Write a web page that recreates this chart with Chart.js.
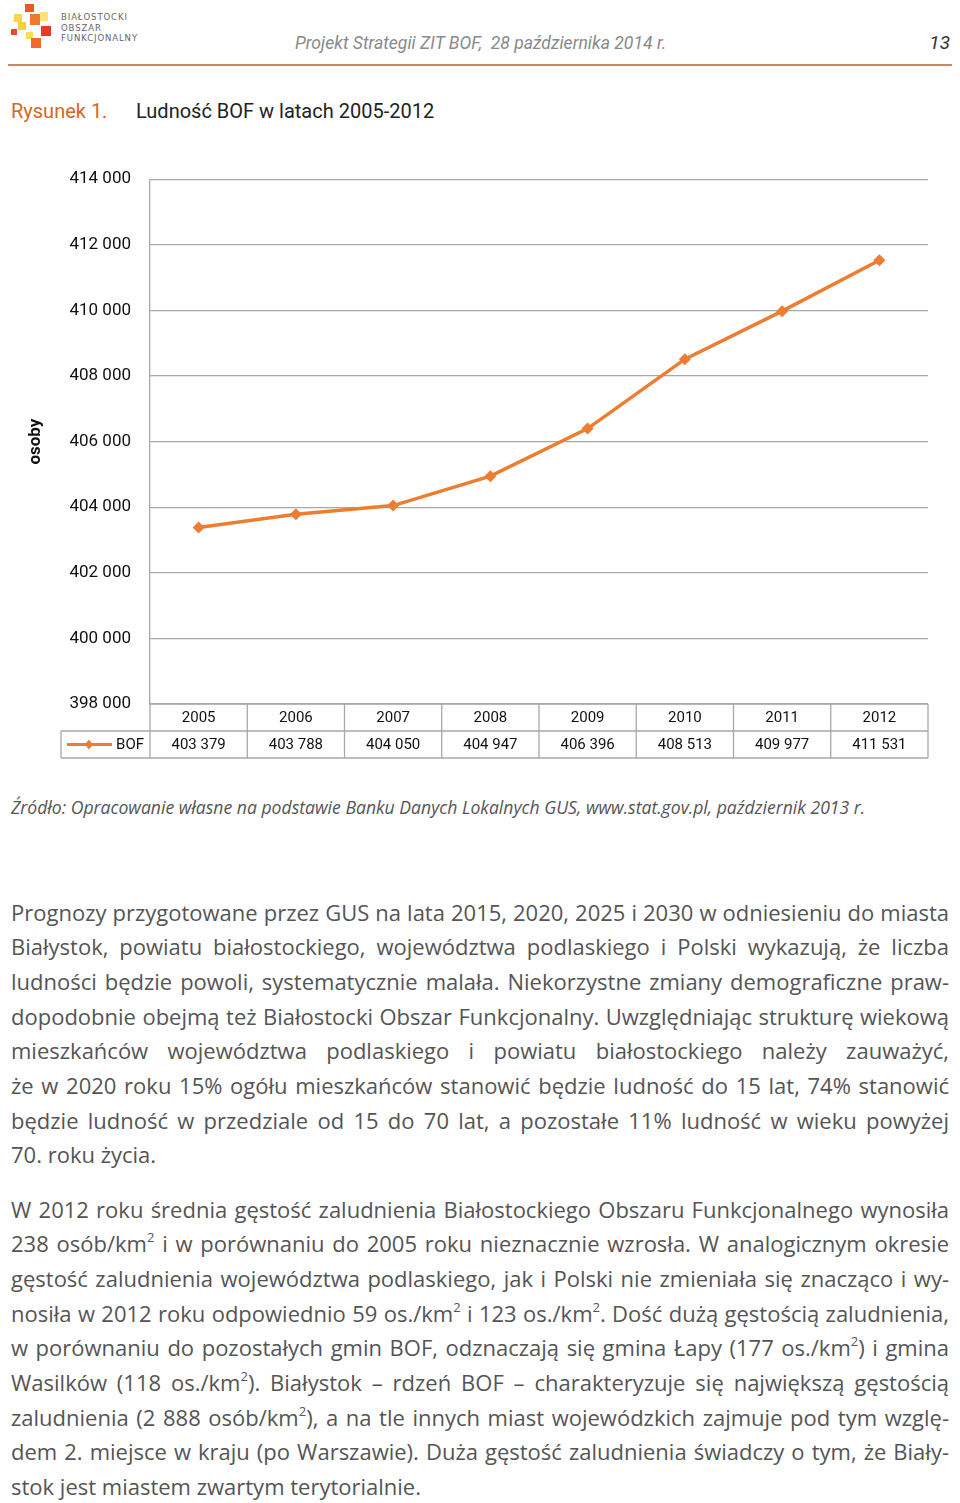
<!DOCTYPE html>
<html>
<head>
<meta charset="utf-8">
<script src="https://cdn.jsdelivr.net/npm/chart.js@4.4.0/dist/chart.umd.min.js"></script>
<style>
  body { margin: 0; width: 960px; height: 1503px; background: #fff; position: relative; overflow: hidden; font-family: Roboto, sans-serif; }
  .sq { position: absolute; }
  .logotxt { position: absolute; left: 61px; font-family: "DejaVu Sans", sans-serif; font-size: 8.5px; letter-spacing: 0.9px; color: #666; }
  .hdr { position: absolute; top: 33px; left: 295px; font-style: italic; font-size: 17.6px; color: #8a8a8a; }
  .pg { position: absolute; top: 31px; right: 10px; font-style: italic; font-size: 19px; color: #333; }
  .rule { position: absolute; left: 8px; width: 944px; top: 64px; height: 1.5px; background: #c98a5e; }
  .cap { position: absolute; top: 99px; font-size: 20px; }
  .src { position: absolute; top: 795px; left: 11px; font-family: "Open Sans", sans-serif; font-style: italic; font-size: 17.6px; color: #555; }
  .txt { position: absolute; left: 11px; width: 938px; font-family: "Open Sans", sans-serif; font-size: 22px; line-height: 34.7px; color: #555; }
  .txt div { text-align: justify; text-align-last: justify; height: 34.7px; }
  .txt div.end { text-align-last: left; }
  sup { font-size: 13px; line-height: 0; vertical-align: 10px; }
  #wrap { position: absolute; left: 0; top: 150px; width: 960px; height: 620px; }
</style>
</head>
<body>
<!-- logo -->
<div class="sq" style="left:25px;top:4px;width:9px;height:8px;background:#e8582a"></div>
<div class="sq" style="left:14px;top:14px;width:8px;height:8px;background:#f9d64a"></div>
<div class="sq" style="left:30px;top:14px;width:10px;height:11px;background:#ee7a30"></div>
<div class="sq" style="left:40px;top:12px;width:8px;height:9px;background:#fbe27a"></div>
<div class="sq" style="left:18px;top:22px;width:8px;height:8px;background:#f7cf3c"></div>
<div class="sq" style="left:11px;top:29px;width:6px;height:6px;background:#e4502a"></div>
<div class="sq" style="left:41px;top:26px;width:10px;height:10px;background:#e33d22"></div>
<div class="sq" style="left:26px;top:32px;width:7px;height:7px;background:#f9dc55"></div>
<div class="sq" style="left:31px;top:38px;width:10px;height:10px;background:#ee6a2c"></div>
<div class="logotxt" style="top:12px">BIAŁOSTOCKI</div>
<div class="logotxt" style="top:23px">OBSZAR</div>
<div class="logotxt" style="top:33px">FUNKCJONALNY</div>

<div class="hdr">Projekt Strategii ZIT BOF,&nbsp; 28 października 2014 r.</div>
<div class="pg">13</div>
<div class="rule"></div>

<div class="cap" style="left:11px;color:#d4691f">Rysunek 1.</div>
<div class="cap" style="left:136px;color:#222">Ludność BOF w latach 2005-2012</div>

<div id="wrap"><canvas id="myChart"></canvas></div>

<div class="src">Źródło: Opracowanie własne na podstawie Banku Danych Lokalnych GUS, www.stat.gov.pl, październik 2013 r.</div>

<div class="txt" style="top:894.6px">
<div>Prognozy przygotowane przez GUS na lata 2015, 2020, 2025 i 2030 w odniesieniu do miasta</div>
<div>Białystok, powiatu białostockiego, województwa podlaskiego i Polski wykazują, że liczba</div>
<div>ludności będzie powoli, systematycznie malała. Niekorzystne zmiany demograficzne praw-</div>
<div>dopodobnie obejmą też Białostocki Obszar Funkcjonalny. Uwzględniając strukturę wiekową</div>
<div>mieszkańców województwa podlaskiego i powiatu białostockiego należy zauważyć,</div>
<div>że w 2020 roku 15% ogółu mieszkańców stanowić będzie ludność do 15 lat, 74% stanowić</div>
<div>będzie ludność w przedziale od 15 do 70 lat, a pozostałe 11% ludność w wieku powyżej</div>
<div class="end">70. roku życia.</div>
</div>

<div class="txt" style="top:1191.6px">
<div>W 2012 roku średnia gęstość zaludnienia Białostockiego Obszaru Funkcjonalnego wynosiła</div>
<div>238 osób/km<sup>2</sup> i w porównaniu do 2005 roku nieznacznie wzrosła. W analogicznym okresie</div>
<div>gęstość zaludnienia województwa podlaskiego, jak i Polski nie zmieniała się znacząco i wy-</div>
<div>nosiła w 2012 roku odpowiednio 59 os./km<sup>2</sup> i 123 os./km<sup>2</sup>. Dość dużą gęstością zaludnienia,</div>
<div>w porównaniu do pozostałych gmin BOF, odznaczają się gmina Łapy (177 os./km<sup>2</sup>) i gmina</div>
<div>Wasilków (118 os./km<sup>2</sup>). Białystok – rdzeń BOF – charakteryzuje się największą gęstością</div>
<div>zaludnienia (2 888 osób/km<sup>2</sup>), a na tle innych miast wojewódzkich zajmuje pod tym wzglę-</div>
<div>dem 2. miejsce w kraju (po Warszawie). Duża gęstość zaludnienia świadczy o tym, że Biały-</div>
<div class="end">stok jest miastem zwartym terytorialnie.</div>
</div>

<script>
// data
var years = ["2005", "2006", "2007", "2008", "2009", "2010", "2011", "2012"];
var bof = [403379, 403788, 404050, 404947, 406396, 408513, 409977, 411531];
var seriesName = "BOF";
var yMin = 398000;
var yMax = 414000;
var yStep = 2000;

var orange = "#ed7d31";
var gridCol = "#a8a8a8";

function fmt(v) {
  return String(v).replace(/\B(?=(\d{3})+(?!\d))/g, " ");
}

// data table under the plot (drawn from the x scale positions)
const tablePlugin = {
  id: "dataTable",
  afterDraw(chart) {
    const c = chart.ctx;
    const x = chart.scales.x;
    const area = chart.chartArea;
    const colW = (area.right - area.left) / years.length;
    const top = area.bottom;
    const rowH = 27;
    const legL = 61;

    c.save();
    c.strokeStyle = gridCol;
    c.lineWidth = 1.3;
    c.beginPath();
    // horizontal lines
    c.moveTo(area.left, top); c.lineTo(area.right, top);
    c.moveTo(legL, top + rowH); c.lineTo(area.right, top + rowH);
    c.moveTo(legL, top + 2 * rowH); c.lineTo(area.right, top + 2 * rowH);
    // vertical lines
    c.moveTo(legL, top + rowH); c.lineTo(legL, top + 2 * rowH);
    c.moveTo(area.left, top); c.lineTo(area.left, top + 2 * rowH);
    for (let i = 0; i < years.length; i++) {
      const r = x.getPixelForValue(i) + colW / 2;
      c.moveTo(r, top); c.lineTo(r, top + 2 * rowH);
    }
    c.stroke();

    c.fillStyle = "#111";
    c.font = "15px Roboto";
    c.textAlign = "center";
    c.textBaseline = "middle";
    for (let i = 0; i < years.length; i++) {
      const cx = x.getPixelForValue(i);
      c.fillText(years[i], cx, top + rowH / 2 + 0.5);
      c.fillText(fmt(bof[i]), cx, top + rowH * 1.5 + 0.5);
    }

    // legend key
    const ly = top + rowH * 1.5;
    c.strokeStyle = orange;
    c.lineWidth = 3;
    c.beginPath();
    c.moveTo(67, ly); c.lineTo(112, ly);
    c.stroke();
    c.fillStyle = orange;
    c.beginPath();
    c.moveTo(89, ly - 5); c.lineTo(93, ly); c.lineTo(89, ly + 5); c.lineTo(85, ly);
    c.closePath();
    c.fill();
    c.fillStyle = "#111";
    c.textAlign = "right";
    c.fillText(seriesName, 144, ly + 0.5);
    c.restore();
  }
};

const ctx = document.getElementById("myChart");
new Chart(ctx, {
  type: "line",
  data: {
    labels: years,
    datasets: [
      {
        label: seriesName,
        data: bof,
        borderColor: orange,
        backgroundColor: orange,
        borderWidth: 3.5,
        pointStyle: "rectRot",
        pointRadius: 6,
        pointBorderWidth: 0,
        tension: 0
      }
    ]
  },
  options: {
    responsive: true,
    maintainAspectRatio: false,
    animation: false,
    layout: {
      padding: { top: 28, right: 32, bottom: 66, left: 0 }
    },
    plugins: {
      legend: { display: false },
      tooltip: { enabled: false }
    },
    scales: {
      x: {
        type: "category",
        offset: true,
        display: false
      },
      y: {
        min: yMin,
        max: yMax,
        afterFit(scale) { scale.width = 150; },
        ticks: {
          stepSize: yStep,
          color: "#111",
          padding: 19,
          font: { family: "Roboto", size: 17 },
          callback: function (v) { return fmt(v); }
        },
        grid: {
          color: gridCol,
          lineWidth: 1.3,
          drawTicks: false
        },
        border: { display: true, color: gridCol, width: 1.3 },
        title: {
          display: true,
          text: "osoby",
          color: "#111",
          font: { family: "Roboto", size: 17, weight: "bold" },
          padding: { top: 26, bottom: 0 }
        }
      }
    }
  },
  plugins: [tablePlugin]
});
</script>
</body>
</html>
